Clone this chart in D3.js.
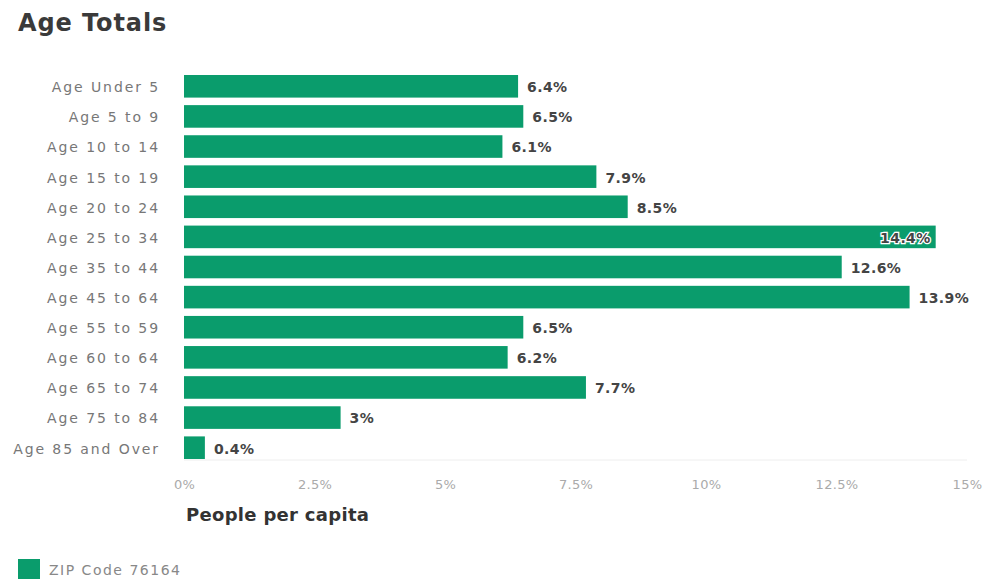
<!DOCTYPE html>
<html lang="en">
<head>
<meta charset="UTF-8">
<title>Age Totals</title>
<script src="https://d3js.org/d3.v7.min.js"></script>
<style>
  body { margin: 0; background: #fff; }
  svg text { font-family: "DejaVu Sans", sans-serif; }
</style>
</head>
<body>
<svg width="995" height="581"></svg>
<script>
const ageGroups = ["Age Under 5", "Age 5 to 9", "Age 10 to 14", "Age 15 to 19", "Age 20 to 24",
  "Age 25 to 34", "Age 35 to 44", "Age 45 to 64", "Age 55 to 59", "Age 60 to 64",
  "Age 65 to 74", "Age 75 to 84", "Age 85 and Over"];
const shares = [6.4, 6.5, 6.1, 7.9, 8.5, 14.4, 12.6, 13.9, 6.5, 6.2, 7.7, 3, 0.4];
const tickValues = [0, 2.5, 5, 7.5, 10, 12.5, 15];
const seriesName = "ZIP Code 76164";

const green = "#0a9c6c";
const svg = d3.select("svg");
const left = 184;
const plotW = 967 - left;

const x = d3.scaleLinear().domain([0, 15]).range([0, plotW]);
const y = d3.scaleBand().domain(ageGroups).range([72, 462]).paddingInner(0.25).paddingOuter(0.1);

svg.append("text")
  .attr("x", 18).attr("y", 31)
  .attr("font-size", 24).attr("font-weight", 700).attr("fill", "#3a3a3a")
  .attr("letter-spacing", 0.9)
  .text("Age Totals");

const g = svg.append("g").attr("transform", `translate(${left},0)`);

// faint baseline
g.append("line")
  .attr("x1", 0).attr("x2", plotW).attr("y1", 460).attr("y2", 460)
  .attr("stroke", "#eee");

g.selectAll("rect.bar")
  .data(shares)
  .join("rect")
  .attr("class", "bar")
  .attr("x", 0)
  .attr("y", (d, i) => y(ageGroups[i]))
  .attr("width", d => x(d))
  .attr("height", y.bandwidth())
  .attr("fill", green);

// value labels
g.selectAll("text.val")
  .data(shares)
  .join("text")
  .attr("class", "val")
  .each(function (d) {
    const inside = x(d) + 60 > plotW + 15;
    d3.select(this)
      .attr("x", inside ? x(d) - 5 : x(d) + 9)
      .attr("text-anchor", inside ? "end" : "start")
      .attr("stroke", inside ? "#fff" : "none")
      .attr("stroke-width", inside ? 2.5 : 0)
      .attr("paint-order", "stroke");
  })
  .attr("y", (d, i) => y(ageGroups[i]) + y.bandwidth() / 2 + 1)
  .attr("dy", "0.35em")
  .attr("font-size", 14).attr("font-weight", 700).attr("fill", "#444")
  .attr("letter-spacing", 0.4)
  .text(d => d + "%");

// category labels
svg.selectAll("text.cat")
  .data(ageGroups)
  .join("text")
  .attr("class", "cat")
  .attr("x", 160)
  .attr("y", d => y(d) + y.bandwidth() / 2 + 1)
  .attr("dy", "0.35em")
  .attr("text-anchor", "end")
  .attr("font-size", 14).attr("fill", "#777")
  .attr("letter-spacing", 1.9)
  .text(d => d);

// x axis
const axis = g.append("g")
  .attr("transform", "translate(0,460)")
  .call(d3.axisBottom(x).tickValues(tickValues).tickSize(0).tickPadding(20)
    .tickFormat(d => d + "%"));
axis.select(".domain").remove();
axis.selectAll("text")
  .attr("font-family", "'DejaVu Sans', sans-serif")
  .attr("font-size", 13).attr("fill", "#aaa")
  .attr("letter-spacing", 0.3);

svg.append("text")
  .attr("x", 186).attr("y", 521)
  .attr("font-size", 18).attr("font-weight", 700).attr("fill", "#333")
  .attr("letter-spacing", 0.3)
  .text("People per capita");

// legend
svg.append("rect")
  .attr("x", 18).attr("y", 559).attr("width", 22).attr("height", 20)
  .attr("fill", green);
svg.append("text")
  .attr("x", 49).attr("y", 570).attr("dy", "0.35em")
  .attr("font-size", 14).attr("fill", "#888")
  .attr("letter-spacing", 1.5)
  .text(seriesName);
</script>
</body>
</html>
